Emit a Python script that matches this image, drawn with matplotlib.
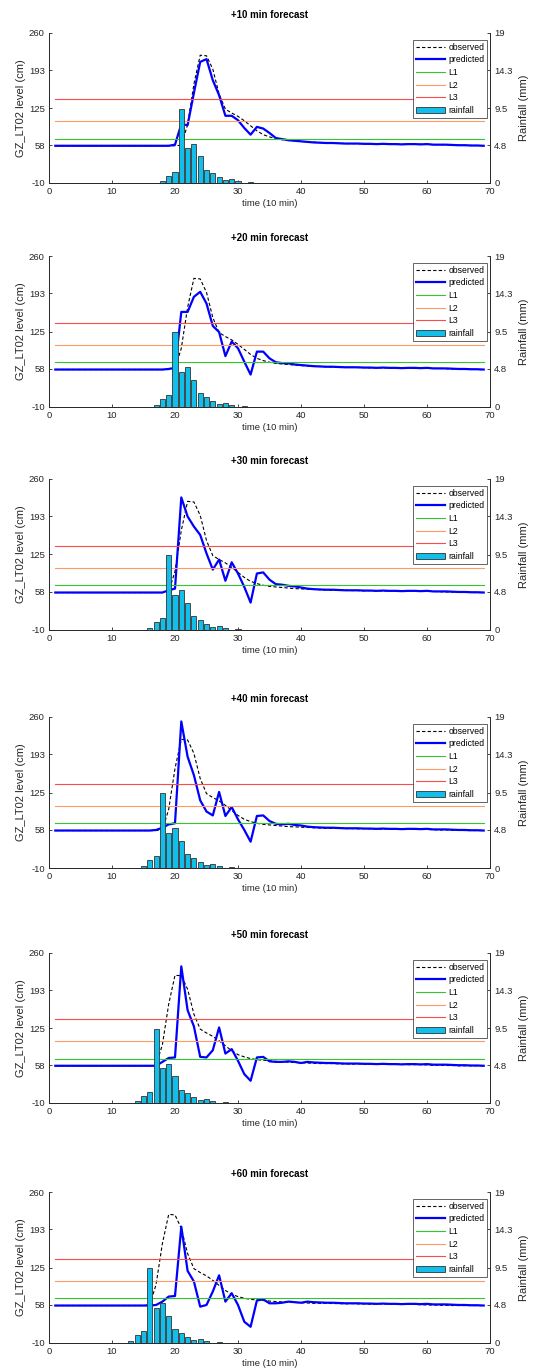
import matplotlib
matplotlib.use('Agg')
import matplotlib.pyplot as plt
from matplotlib.patches import Patch
from matplotlib.lines import Line2D

plt.rcParams['font.family'] = ['Liberation Sans', 'DejaVu Sans']
plt.rcParams['font.size'] = 6.5
plt.rcParams['axes.unicode_minus'] = False

# time axis (10 min steps), level thresholds (cm)
t = list(range(1, 70))
L1, L2, L3 = 70, 101, 141

# observed level, aligned to the +10 min panel (x = 1..74)
observed = [57] * 20 + [58, 95, 168, 220, 219, 195, 150, 123, 116, 110, 102, 93,
                        84, 77, 73, 70,
                        68, 67, 66, 65, 64, 63.5, 63, 62.5, 62, 61.5, 61, 61, 61,
                        60.5, 60.5, 60, 60.5, 60, 60, 59.5, 60, 60, 59.5, 60, 59,
                        59, 59, 58.5, 58, 58, 57.5, 57.5, 57, 57, 57, 57, 57, 57]

# rainfall (mm), aligned to the +10 min panel
rain_t = list(range(18, 33))
rain = [0.25, 0.95, 1.45, 9.4, 4.45, 5.0, 3.45, 1.7, 1.3, 0.72, 0.42, 0.5, 0.25, 0.05, 0.17]

# predicted level for x = 41..69 (same in every panel)
tail = [64, 63, 62.5, 62, 62, 61.5, 61, 61, 61, 60.5, 60.5, 60, 60.5, 60, 60,
        59.5, 60, 60, 59.5, 60, 59, 59, 59, 58.5, 58, 58, 57.5, 57.5, 57]

pred10 = [57] * 19 + [59, 96, 94, 152, 208, 213, 175, 148, 111, 111, 103, 89, 77,
                      91, 88, 80, 71, 69, 67, 66, 65] + tail
pred20 = [57] * 18 + [58, 60, 160, 160, 187, 196, 175, 135, 124, 81, 107, 95, 71,
                      48, 89, 89, 77, 70, 68.5, 68, 66, 65] + tail
pred30 = [57] * 18 + [61, 64, 227, 193, 175, 160, 127, 98, 116, 78, 111, 91, 67,
                      39, 91, 93, 80, 72, 71, 69, 68, 66] + tail
pred40 = [57] * 16 + [58, 62, 68, 70, 252, 189, 156, 111, 91, 84, 126, 83, 99, 77,
                      58, 37, 83, 84, 74, 69, 68, 69, 67, 66] + tail
pred50 = [57] * 16 + [57, 64, 71, 72, 236, 157, 128, 73, 72, 85, 126, 79, 87, 66,
                      42, 30, 72, 73, 65, 64, 64, 65, 64, 62] + tail
pred60 = [57] * 16 + [58, 64, 73, 74, 198, 119, 100, 55, 58, 82, 111, 64, 79, 58,
                      28, 19, 66, 68, 61, 61, 62, 64, 63, 62] + tail

predicted = [pred10, pred20, pred30, pred40, pred50, pred60]
titles = ['+10 min forecast', '+20 min forecast', '+30 min forecast',
          '+40 min forecast', '+50 min forecast', '+60 min forecast']

W, H = 533, 1372
tops = [33, 256, 479, 717, 953, 1192]
bots = [183, 407, 630, 868, 1103, 1343]
ax_col = '#262626'

fig = plt.figure(figsize=(W / 100, H / 100), dpi=100)

for k in range(6):
    ax = fig.add_axes([49 / W, 1 - bots[k] / H, 441 / W, (bots[k] - tops[k]) / H])
    ax2 = ax.twinx()

    obs = observed[k:k + len(t)]
    ax.plot(t, obs, color='black', linestyle=(0, (3, 2)), lw=0.8)
    ax.plot(t, predicted[k], color='#0000FF', lw=1.6)
    ax.plot([t[0], t[-1]], [L1, L1], color='#33C633', lw=0.8)
    ax.plot([t[0], t[-1]], [L2, L2], color='#FF9A66', lw=0.8)
    ax.plot([t[0], t[-1]], [L3, L3], color='#FF4A4A', lw=0.8)

    ax2.bar([x - k for x in rain_t], rain, width=0.8, color='#12BFEA',
            edgecolor='#333333', linewidth=0.6)

    ax.set_xlim(0, 70)
    ax.set_ylim(-10, 260)
    ax2.set_ylim(0, 19)
    ax.set_xticks(range(0, 71, 10))
    ax.set_yticks([-10, 58, 125, 193, 260])
    ax2.set_yticks([0, 4.8, 9.5, 14.3, 19])
    ax2.set_yticklabels(['0', '4.8', '9.5', '14.3', '19'])

    for a in (ax, ax2):
        a.spines['top'].set_visible(False)
        for s in a.spines.values():
            s.set_color(ax_col)
            s.set_linewidth(0.6)
        a.tick_params(direction='in', length=2.5, width=0.6, colors=ax_col,
                      labelsize=6.8, pad=3)

    ax.set_title(titles[k], fontsize=7, fontweight='bold', pad=11)
    ax.set_xlabel('time (10 min)', fontsize=6.8, labelpad=2, color=ax_col)
    ax.set_ylabel('GZ_LT02 level (cm)', fontsize=8, labelpad=2, color=ax_col)
    ax2.set_ylabel('Rainfall (mm)', fontsize=8, labelpad=5, color=ax_col)

    handles = [Line2D([], [], color='black', linestyle=(0, (3, 2)), lw=0.8),
               Line2D([], [], color='#0000FF', lw=1.6),
               Line2D([], [], color='#33C633', lw=0.8),
               Line2D([], [], color='#FF9A66', lw=0.8),
               Line2D([], [], color='#FF4A4A', lw=0.8),
               Patch(facecolor='#12BFEA', edgecolor='#333333', linewidth=0.6)]
    leg = ax2.legend(handles, ['observed', 'predicted', 'L1', 'L2', 'L3', 'rainfall'],
                     loc='upper right', bbox_to_anchor=(0.994, 0.955),
                     borderaxespad=0, fontsize=6.2, handlelength=3.3,
                     handletextpad=0.4, labelspacing=0.42, borderpad=0.35,
                     fancybox=False, framealpha=1)
    leg.get_frame().set_edgecolor(ax_col)
    leg.get_frame().set_linewidth(0.5)

fig.savefig('out.png', dpi=100)
